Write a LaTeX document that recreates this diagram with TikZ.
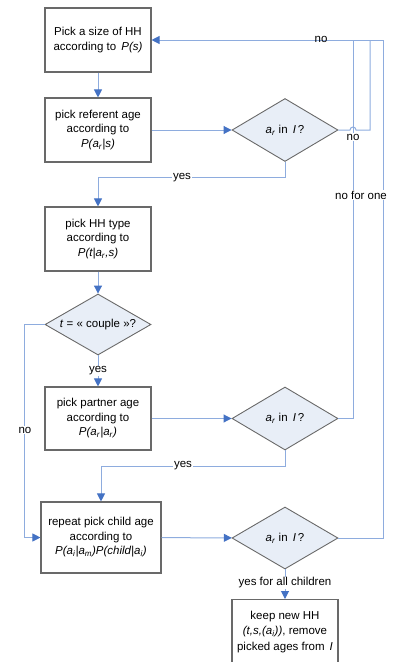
\documentclass[tikz,border=0pt]{standalone}
\usepackage{fontspec}
\setmainfont{Liberation Sans}
\usetikzlibrary{arrows.meta,shapes.geometric}
\definecolor{linkblue}{RGB}{142,172,222}
\definecolor{tipblue}{RGB}{68,114,196}
\definecolor{framegray}{RGB}{105,105,105}
\definecolor{testfill}{RGB}{232,238,247}
% italic subscript used in the probability expressions
\newcommand{\vsub}[1]{\textsubscript{\textit{#1}}}

\begin{document}
\begin{tikzpicture}[x=1pt,y=-1pt,
  font=\fontsize{11.5}{14.5}\selectfont,
  stepbox/.style={draw=framegray,line width=1.1pt,fill=white,
    minimum width=106pt,minimum height=64pt,inner sep=0pt,align=center},
  test/.style={diamond,draw=framegray,line width=0.9pt,fill=testfill,
    minimum width=106pt,minimum height=63pt,inner sep=0pt,aspect=1.68},
  link/.style={draw=linkblue,line width=1pt},
  flow/.style={link,-{Triangle[length=8pt,width=8pt,color=tipblue]}},
  tag/.style={fill=white,inner sep=1pt}]
\useasboundingbox (0,0) rectangle (398,662);

% process steps
\node[stepbox] (size) at (98,40) {Pick a size of HH\\according to \,\textit{P(s)}};
\node[stepbox] (referent) at (98,130) {pick referent age\\according to\\\textit{P(a}\vsub{r}\textit{|s)}};
\node[stepbox] (type) at (98,239) {pick HH type\\according to\\\textit{P(t|a}\vsub{r}\textit{,s)}};
\node[stepbox,minimum height=63pt] (partner) at (98,418.5) {pick partner age\\according to\\\textit{P(a}\vsub{r}\textit{|a}\vsub{r}\textit{)}};
\node[stepbox,minimum width=120pt,minimum height=71pt] (child) at (101,537.5)
  {repeat pick child age\\according to\\\textit{P(a}\vsub{i}\textit{|a}\vsub{m}\textit{)P(child|a}\vsub{i}\textit{)}};
\node[stepbox,anchor=north,font=\fontsize{11.5}{15.5}\selectfont] (keep) at (285,599)
  {keep new HH\\\textit{(t,s,(a}\vsub{i}\textit{))}, remove\\picked ages from \,\textit{I}};

% decisions
\node[test] (check1) at (285,130) {\textit{a}\vsub{r} in \,\textit{I}\,?};
\node[test,minimum height=61pt] (couple) at (98,324.5) {\textit{t} = « couple »?};
\node[test] (check2) at (285,418.5) {\textit{a}\vsub{r} in \,\textit{I}\,?};
\node[test,minimum height=62pt] (check3) at (285,538) {\textit{a}\vsub{r} in \,\textit{I}\,?};

\coordinate (ret1) at (370,40);
\coordinate (ret2) at (353,40);
\coordinate (ret3) at (383,40);

% connectors
\draw[flow] (size) -- (referent);
\draw[flow] (referent) -- (check1);
\draw[flow] (check1.south) -- ++(0,16) -| (type.north);
\draw[flow] (type) -- (couple);
\draw[flow] (couple) -- (partner);
\draw[flow] (couple.west) -- ++(-20,0) |- (child.west);
\draw[flow] (partner) -- (check2);
\draw[flow] (check2.south) -- ++(0,16) -| (child.north);
\draw[flow] (child) -- (check3);
\draw[flow] (check3) -- (keep);
\draw[flow] (check3.east) -| (ret3) -- (size.east);
\draw[link] (check2.east) -| (ret2);
\draw[link] (check1.east) -- (350,130) arc[start angle=180,end angle=360,radius=3] -| (ret1);

% branch labels
\node[tag] at (182,178) {yes};
\node[tag] at (98,371) {yes};
\node[tag] at (25,430) {no};
\node[tag] at (183,466) {yes};
\node[tag] at (285,583) {yes for all children};
\node at (321,39) {no};
\node[tag] at (353,137) {no};
\node[tag] at (361,195) {no for one};
\end{tikzpicture}
\end{document}
